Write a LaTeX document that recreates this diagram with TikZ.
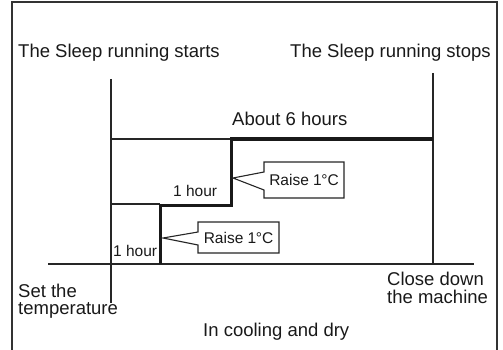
\documentclass[tikz,border=0pt]{standalone}
\usepackage{fontspec}
\setmainfont{Liberation Sans}
\usetikzlibrary{positioning, calc}

\begin{document}
\begin{tikzpicture}[
    x=1pt, y=-1pt,          % ピクセル座標（y は下向き）
    line join=miter,
    % 説明文のスタイル
    big_text/.style={inner sep=0pt, text=black!90, font=\fontsize{18.5}{18}\selectfont},
    small_text/.style={inner sep=0pt, text=black!90, font=\fontsize{15.5}{17}\selectfont},
    % 細線・太線
    thin_line/.style={line width=1.1pt, draw=black!85},
    thick_line/.style={line width=3pt, draw=black!90},
    % 吹き出しの箱
    raise_box/.style={small_text, inner sep=0pt, outer sep=0pt, minimum width=80pt}
]
    \useasboundingbox (0,0) rectangle (503,350);

    % --- 1. 外枠（下辺なし） ---
    \draw [line width=1.3pt, draw=black!80] (12,351) -- (12,2) -- (497,2) -- (497,351);

    % --- 2. 座標点 ---
    \coordinate (startTop) at (111,79);
    \coordinate (startEnd) at (111,303);
    \coordinate (stopTop)  at (433,73);
    \coordinate (stopEnd)  at (433,264);
    \coordinate (baseL)    at (48,264);
    \coordinate (baseR)    at (474,264);
    \coordinate (stepA)    at (160,264);
    \coordinate (stepB)    at (160,205);
    \coordinate (stepC)    at (231,205);
    \coordinate (stepD)    at (231,139);
    \coordinate (stepE)    at (433,139);
    \coordinate (levelA)   at (111,204);
    \coordinate (levelB)   at (111,139);

    % --- 3. 軸と補助線 ---
    \draw [thin_line] (startTop) -- (startEnd);
    \draw [thin_line] (stopTop) -- (stopEnd);
    \draw [thin_line] (baseL) -- (baseR);
    \draw [thin_line] (levelA) -- (levelA -| stepB);
    \draw [thin_line] (levelB) -- (levelB -| stepD);

    % --- 4. 設定温度の階段（太線） ---
    \draw [thick_line] (stepA) -- (stepB) -- (stepC) -- (stepD) -- (stepE);

    % --- 5. 吹き出し「Raise 1°C」 ---
    \coordinate (tipA) at (233,178);
    \node [raise_box, minimum height=36pt] (raiseA) at (304,180) {};
    \draw [thin_line, fill=white]
        (raiseA.north west) -- (raiseA.north east) -- (raiseA.south east)
        -- (raiseA.south west) -- ($(raiseA.south west)+(0,-8)$) -- (tipA)
        -- ($(raiseA.north west)+(0,10)$) -- cycle;
    \node [small_text] (raiseAText) at (raiseA) {Raise 1\kern-0.5pt°C};

    \coordinate (tipB) at (163,238);
    \node [raise_box, minimum width=81pt, minimum height=31pt] (raiseB) at (238.5,237.5) {};
    \draw [thin_line, fill=white]
        (raiseB.north west) -- (raiseB.north east) -- (raiseB.south east)
        -- (raiseB.south west) -- ($(raiseB.south west)+(0,-8)$) -- (tipB)
        -- ($(raiseB.north west)+(0,10)$) -- cycle;
    \node [small_text] (raiseBText) at (raiseB) {Raise 1\kern-0.5pt°C};

    % --- 6. ラベル ---
    \node [big_text, anchor=base west] (startLabel) at (18,58) {The Sleep running starts};
    \node [big_text, anchor=base west] (stopLabel) at (290,58) {The Sleep running stops};
    \node [big_text, anchor=base west] (sixHours) at (232,125) {About 6 hours};
    \node [small_text, anchor=base west] (hourB) at (173,196) {1 hour};
    \node [small_text, anchor=base west] (hourA) at (113,256) {1 hour};
    \node [big_text, anchor=base west] (setLabel) at (18,297) {Set the};
    \node [big_text, anchor=base west, yshift=-17pt] (tempLabel) at (setLabel.base west) {temperature};
    \node [big_text, anchor=base west] (closeLabel) at (387,285) {Close down};
    \node [big_text, anchor=base west, yshift=-18pt] (machineLabel) at (closeLabel.base west) {the machine};
    \node [big_text, anchor=base west] (modeLabel) at (203,336) {In cooling and dry};

\end{tikzpicture}
\end{document}
